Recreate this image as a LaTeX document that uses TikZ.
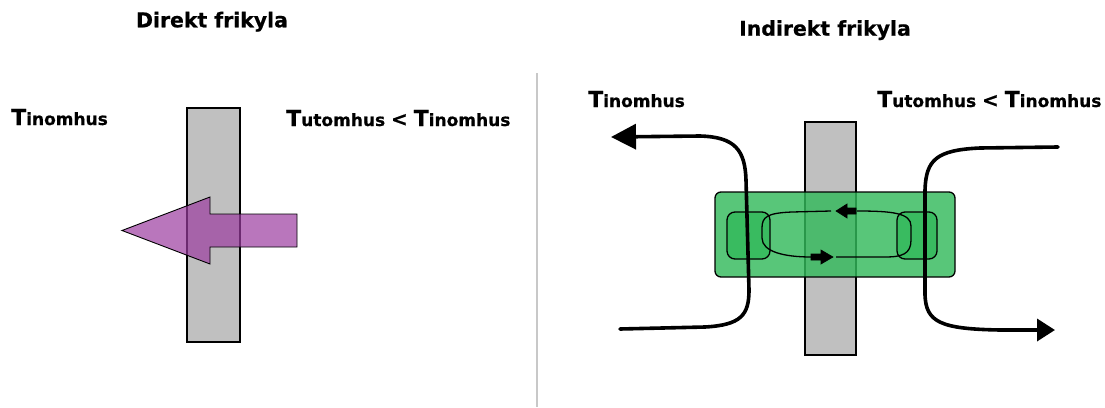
\documentclass[tikz,border=0pt]{standalone}
\usepackage{fontspec}
\setmainfont{DejaVu Sans}[BoldFeatures={FakeBold=0.6}]
\usetikzlibrary{arrows.meta}
\definecolor{grn}{RGB}{51,185,91}
\definecolor{purp}{RGB}{155,60,160}
\definecolor{wallgrey}{RGB}{192,192,192}
\definecolor{sepgrey}{RGB}{200,200,200}
\newcommand\Tlab[1]{{\fontsize{22}{24}\selectfont T}{\fontsize{17}{19}\selectfont #1}}
\newcommand\LtSign{{\fontsize{17}{19}\selectfont\ }{\fontsize{20}{22}\selectfont <}{\fontsize{17}{19}\selectfont\ }}
\tikzset{
  wall/.style={fill=wallgrey, draw=black, line width=1.6pt},
  heatarrow/.style={fill=purp, fill opacity=0.7, draw=black, line width=0.9pt},
  greenbox/.style={fill=grn, fill opacity=0.82, draw=black, line width=1.3pt, rounded corners=6pt},
  innerbox/.style={fill=grn, fill opacity=0.82, draw=black, line width=1.3pt, rounded corners=8pt},
  loopline/.style={draw=black, line width=1.3pt},
  blockhead/.style={fill=black, draw=black, line width=0.6pt},
  flow/.style={draw=black, line width=3.6pt, line cap=round},
  ttl/.style={font=\bfseries\fontsize{20.4}{24}\selectfont, inner sep=0pt, anchor=base},
  lbl/.style={font=\bfseries, inner sep=0pt, anchor=base west}
}
\begin{document}
\begin{tikzpicture}[x=1pt,y=-1pt]
\useasboundingbox (0,0) rectangle (1105,407);
% ---------- left panel ----------
\node[ttl] (t1) at (212,27.3) {Direkt frikyla};
\node[lbl] (in1) at (11,125) {\Tlab{inomhus}};
\node[lbl] (ut1) at (286,126) {\Tlab{utomhus}\LtSign\Tlab{inomhus}};
\draw[wall] (187,108) rectangle (240,342);
\draw[heatarrow] (297,214) -- (210,214) -- (210,197) -- (122,230.5) -- (210,264) -- (210,247) -- (297,247) -- cycle;
% separator
\draw[sepgrey, line width=1.6pt] (537,73) -- (537,407);
% ---------- right panel ----------
\node[ttl] (t2) at (825,35.7) {Indirekt frikyla};
\node[lbl] (in2) at (588,107) {\Tlab{inomhus}};
\node[lbl] (ut2) at (877,107) {\Tlab{utomhus}\LtSign\Tlab{inomhus}};
\draw[wall] (805,122) rectangle (856,355);
\draw[greenbox] (715,192) rectangle (955,277);
\draw[innerbox] (727,212) rectangle (770,259);
\draw[innerbox] (897,212) rectangle (937,259);
% internal loop
\draw[loopline] (857,211) .. controls (892,211) and (911,213) .. (911,226) -- (911,240) .. controls (911,254) and (902,257) .. (885,257) -- (836,257);
\draw[loopline] (831,211) -- (792,212) .. controls (767,213) and (762,217) .. (762,228) -- (762,238) .. controls (762,252) and (785,257) .. (811,257);
\filldraw[blockhead] (856,208) -- (847,208) -- (847,204) -- (836,211) -- (847,218) -- (847,214) -- (856,214) -- cycle;
\filldraw[blockhead] (811,254) -- (821,254) -- (821,250) -- (833,257) -- (821,264) -- (821,260) -- (811,260) -- cycle;
% big flow curves
\draw[flow, -{Triangle[length=25pt,width=25pt]}] (620,329) -- (705,327) .. controls (741,325) and (749,315) .. (749,290) -- (746,180) .. controls (745,150) and (735,137) .. (700,136) -- (611,137);
\draw[flow, -{Triangle[length=18pt,width=22pt]}] (1058,147) -- (980,148) .. controls (936,150) and (926,160) .. (925,190) -- (925,295) .. controls (926,322) and (940,329) .. (1000,330) -- (1055,330);
\end{tikzpicture}
\end{document}
